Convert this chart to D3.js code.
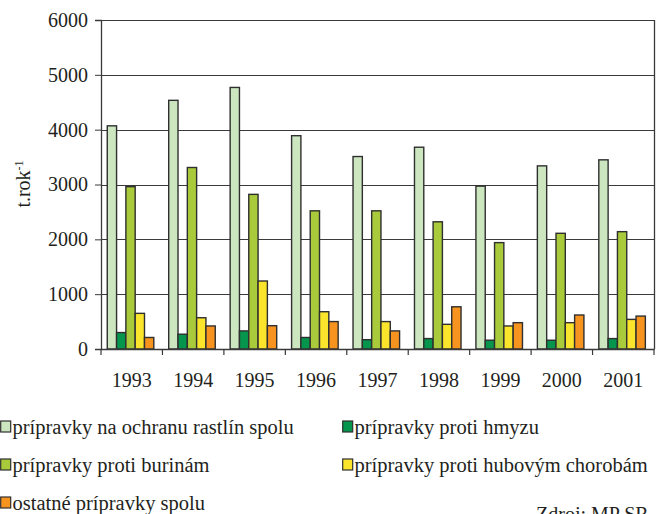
<!DOCTYPE html>
<html><head><meta charset="utf-8">
<script src="https://cdn.jsdelivr.net/npm/d3@7"></script>
<style>
html,body{margin:0;padding:0;background:#fff;}
svg{display:block;}
svg text{font-family:"Liberation Serif","Times New Roman",serif !important;fill:#231f20;}
</style></head>
<body>
<svg id="c" width="658" height="514"></svg>
<script>
const years = ["1993","1994","1995","1996","1997","1998","1999","2000","2001"];
const seriesNames = [
  "prípravky na ochranu rastlín spolu",
  "prípravky proti hmyzu",
  "prípravky proti burinám",
  "prípravky proti hubovým chorobám",
  "ostatné prípravky spolu"
];
const totalVals   = [4070, 4535, 4770, 3890, 3510, 3680, 2970, 3340, 3450];
const insectVals  = [300, 270, 330, 210, 170, 190, 160, 160, 190];
const weedVals    = [2960, 3310, 2820, 2520, 2520, 2320, 1940, 2110, 2140];
const fungusVals  = [650, 570, 1240, 680, 500, 450, 420, 480, 540];
const otherVals   = [210, 420, 425, 500, 330, 770, 480, 620, 600];
const yTicks = [0, 1000, 2000, 3000, 4000, 5000, 6000];
const colors = ["#cce6c0", "#06954c", "#a9ca3a", "#fbe52c", "#f7941f"];
const yTitle = "t.rok";
const yTitleSup = "-1";
const sourceText = "Zdroj: MP SR";

const allVals = [totalVals, insectVals, weedVals, fungusVals, otherVals];
const FONT = "Liberation Serif";
const svg = d3.select("#c").attr("font-family", FONT);
const m = {left:101, right:654, top:20, bottom:349};

const x0 = d3.scaleBand().domain(years).range([m.left, m.right]).paddingInner(0).paddingOuter(0);
const x1 = d3.scaleBand().domain(d3.range(seriesNames.length)).range([0, x0.bandwidth()])
  .paddingInner(0).paddingOuter(0.8).align(0.42);
const y = d3.scaleLinear().domain([0, 6000]).range([m.bottom, m.top]);

// gridlines
svg.append("g").selectAll("line").data(yTicks.filter(d=>d>0)).join("line")
  .attr("x1", m.left).attr("x2", m.right)
  .attr("y1", d=>Math.round(y(d))+0.5).attr("y2", d=>Math.round(y(d))+0.5)
  .attr("stroke", "#3a3a3a").attr("stroke-width", 1);
// right border
svg.append("line").attr("x1", m.right+0.5).attr("x2", m.right+0.5)
  .attr("y1", y(6000)).attr("y2", y(0)).attr("stroke","#3a3a3a").attr("stroke-width",1.3);

// bars
const groups = svg.append("g").selectAll("g").data(years).join("g")
  .attr("transform", d=>`translate(${x0(d)},0)`);
groups.selectAll("rect").data((yr,i)=>allVals.map((arr,s)=>({s, v:arr[i]}))).join("rect")
  .attr("x", d=>x1(d.s)).attr("width", x1.bandwidth())
  .attr("y", d=>y(d.v)).attr("height", d=>y(0)-y(d.v))
  .attr("fill", d=>colors[d.s]).attr("stroke", "#2f2f2f").attr("stroke-width", 1.4);

// y axis
const yAxis = svg.append("g").attr("transform", `translate(${m.left},0)`)
  .call(d3.axisLeft(y).tickValues(yTicks).tickSize(6).tickPadding(7).tickFormat(d3.format("d")));
yAxis.attr("font-family", FONT);
yAxis.select(".domain").attr("stroke","#3a3a3a").attr("stroke-width",1.3);
yAxis.selectAll(".tick line").attr("stroke","#3a3a3a");
yAxis.selectAll("text").attr("font-family",FONT).style("font-size","20px").attr("fill","#231f20");

// x axis
const xAxis = svg.append("g").attr("transform", `translate(0,${m.bottom})`)
  .call(d3.axisBottom(x0).tickSize(0).tickPadding(24));
xAxis.attr("font-family", FONT);
xAxis.select(".domain").attr("stroke","#3a3a3a").attr("stroke-width",1.3);
xAxis.selectAll("text").attr("font-family",FONT).style("font-size","20px").attr("fill","#231f20");
// boundary ticks
svg.append("g").selectAll("line").data(years.concat(["end"])).join("line")
  .attr("x1", (d,i)=>m.left + i*x0.step()).attr("x2", (d,i)=>m.left + i*x0.step())
  .attr("y1", m.bottom).attr("y2", m.bottom+6).attr("stroke","#3a3a3a").attr("stroke-width",1.2);

// y title
const yt = svg.append("text").attr("transform","translate(30,184) rotate(-90)")
  .attr("text-anchor","middle").attr("font-family",FONT).style("font-size","20px");
yt.append("tspan").text(yTitle);
yt.append("tspan").text(yTitleSup).attr("dy","-7").style("font-size","12px");

// legend
const legPos = [[0,427],[342,427],[0,465],[342,465],[0,503]];
const leg = svg.append("g").selectAll("g").data(seriesNames).join("g")
  .attr("transform",(d,i)=>`translate(${legPos[i][0]},${legPos[i][1]})`);
leg.append("rect").attr("x",0.7).attr("y",-6).attr("width",10).attr("height",11)
  .attr("fill",(d,i)=>colors[i]).attr("stroke","#2f2f2f").attr("stroke-width",1.2);
leg.append("text").attr("x",12.5).attr("y",6.5).text(d=>d).attr("font-family",FONT).style("font-size","20.5px");

// source (partly cut off at the bottom edge, as in the reference)
svg.append("text").attr("x",536).attr("y",521).text(sourceText).attr("font-family",FONT).style("font-size","20px");
</script>
</body></html>
